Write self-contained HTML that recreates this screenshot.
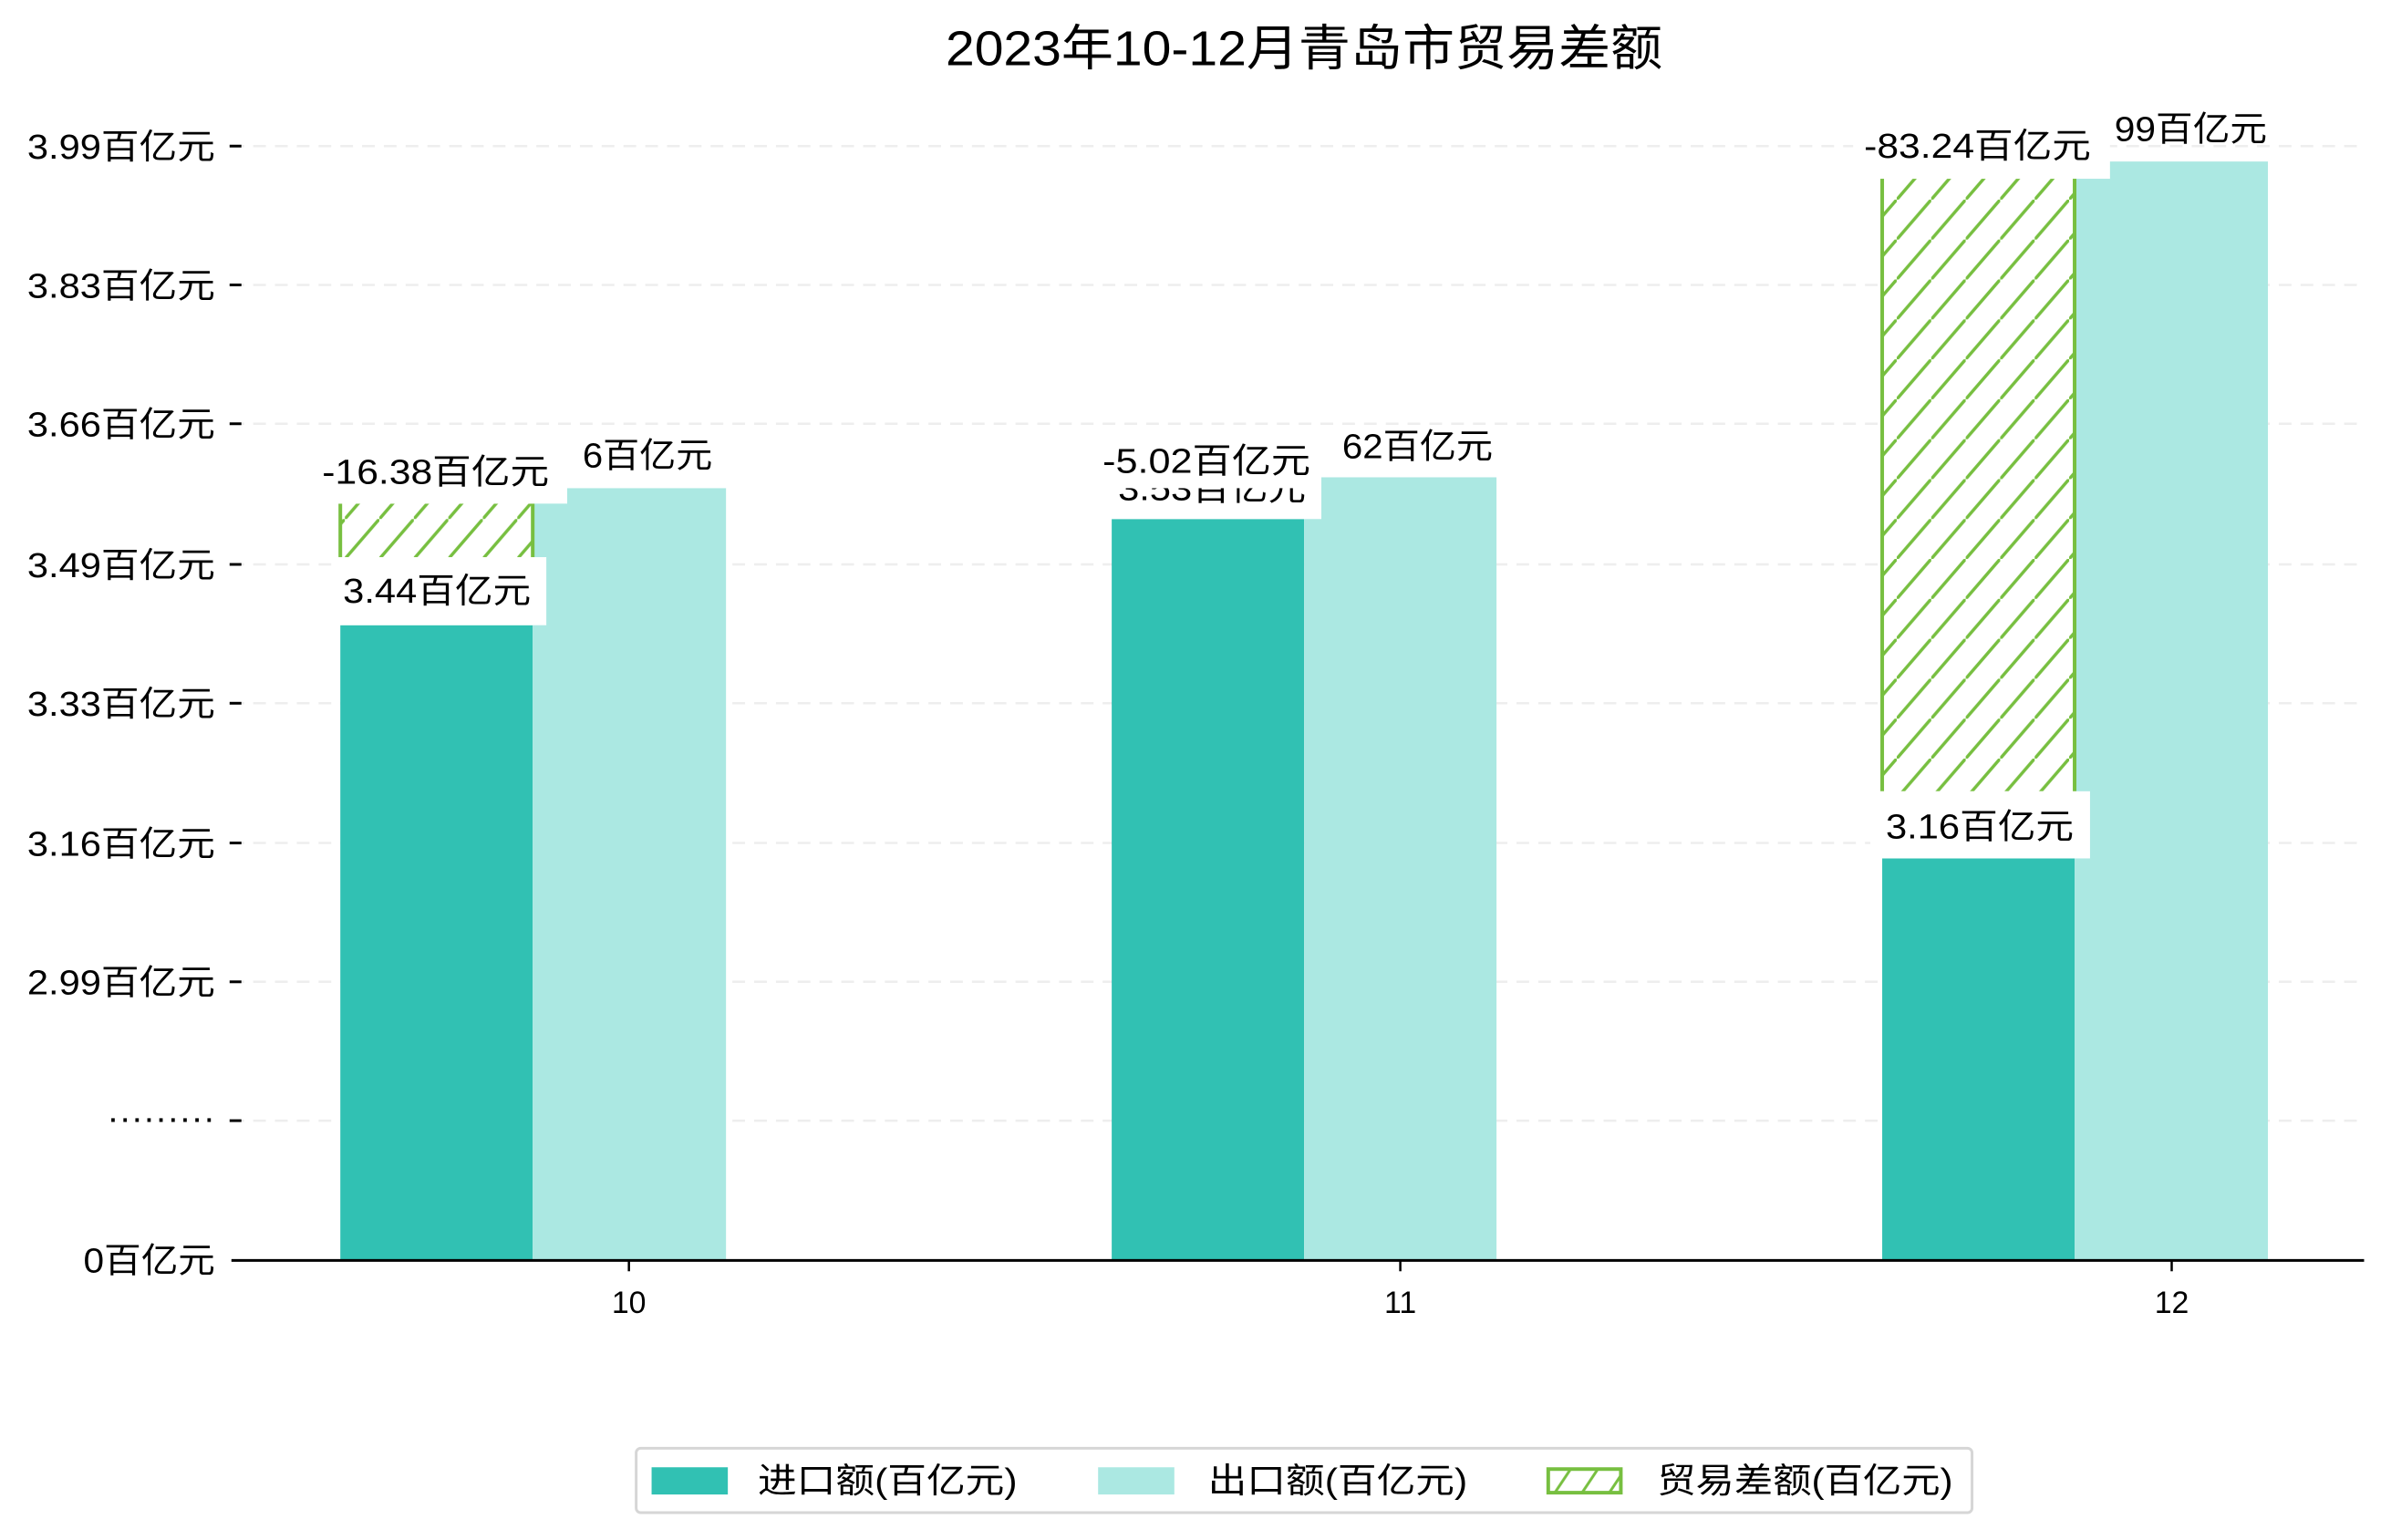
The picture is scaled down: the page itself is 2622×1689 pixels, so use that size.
<!DOCTYPE html>
<html><head><meta charset="utf-8"><style>
html,body{margin:0;padding:0;background:#fff;}
svg{display:block;font-family:"Liberation Sans","Noto Sans CJK SC",sans-serif;}
</style></head><body>
<svg width="2622" height="1689" viewBox="0 0 2622 1689" xmlns="http://www.w3.org/2000/svg">
<defs>
<pattern id="h" patternUnits="userSpaceOnUse" width="38" height="44">
<rect width="38" height="44" fill="#fff"/>
<path d="M-10,55.6 L48,-11.6" stroke="#77bf40" stroke-width="3.5"/>
</pattern>
<pattern id="hl" patternUnits="userSpaceOnUse" width="30" height="30">
<path d="M0,30 L20,0 M30,30 L50,0" stroke="#77bf40" stroke-width="3"/>
</pattern>
</defs>
<g transform="scale(0.9952)">
<text x="1042" y="72" font-size="54" textLength="790" lengthAdjust="spacingAndGlyphs" fill="#000">2023年10-12月青岛市贸易差额</text>
<g stroke="#eeeeee" stroke-width="2.5" stroke-dasharray="14,10">
<line x1="255" y1="161" x2="2605" y2="161"/><line x1="255" y1="314" x2="2605" y2="314"/>
<line x1="255" y1="467" x2="2605" y2="467"/><line x1="255" y1="622" x2="2605" y2="622"/>
<line x1="255" y1="775" x2="2605" y2="775"/><line x1="255" y1="929" x2="2605" y2="929"/>
<line x1="255" y1="1082" x2="2605" y2="1082"/><line x1="255" y1="1235" x2="2605" y2="1235"/>
</g>
<g font-size="38" fill="#000">
<text x="30" y="175" textLength="207" lengthAdjust="spacingAndGlyphs">3.99百亿元</text>
<text x="30" y="328" textLength="207" lengthAdjust="spacingAndGlyphs">3.83百亿元</text>
<text x="30" y="481" textLength="207" lengthAdjust="spacingAndGlyphs">3.66百亿元</text>
<text x="30" y="636" textLength="207" lengthAdjust="spacingAndGlyphs">3.49百亿元</text>
<text x="30" y="789" textLength="207" lengthAdjust="spacingAndGlyphs">3.33百亿元</text>
<text x="30" y="943" textLength="207" lengthAdjust="spacingAndGlyphs">3.16百亿元</text>
<text x="30" y="1096" textLength="207" lengthAdjust="spacingAndGlyphs">2.99百亿元</text>
<text x="118" y="1245" textLength="119" lengthAdjust="spacingAndGlyphs">·········</text>
<text x="92" y="1402" textLength="145" lengthAdjust="spacingAndGlyphs">0百亿元</text>
</g>
<g stroke="#000" stroke-width="3">
<line x1="253" y1="161" x2="266" y2="161"/><line x1="253" y1="314" x2="266" y2="314"/>
<line x1="253" y1="467" x2="266" y2="467"/><line x1="253" y1="622" x2="266" y2="622"/>
<line x1="253" y1="775" x2="266" y2="775"/><line x1="253" y1="929" x2="266" y2="929"/>
<line x1="253" y1="1082" x2="266" y2="1082"/><line x1="253" y1="1235" x2="266" y2="1235"/>
</g>
<!-- month 10 -->
<rect x="375" y="689" width="212" height="699" fill="#31c1b3"/>
<rect x="587" y="538" width="213" height="850" fill="#abe8e2"/>
<rect x="375" y="555" width="212" height="60" fill="url(#h)"/>
<line x1="375" y1="555" x2="375" y2="615" stroke="#77bf40" stroke-width="4"/>
<line x1="587" y1="555" x2="587" y2="615" stroke="#77bf40" stroke-width="4"/>
<rect x="625" y="492" width="170" height="45" fill="#fff"/>
<text x="642" y="515" font-size="38" textLength="143" lengthAdjust="spacingAndGlyphs">6百亿元</text>
<rect x="345" y="490" width="280" height="65" fill="#fff"/>
<text x="355" y="533" font-size="38" textLength="250" lengthAdjust="spacingAndGlyphs">-16.38百亿元</text>
<rect x="366" y="614" width="236" height="75" fill="#fff"/>
<text x="378" y="664" font-size="38" textLength="207" lengthAdjust="spacingAndGlyphs">3.44百亿元</text>
<!-- month 11 -->
<rect x="1225" y="572" width="212" height="816" fill="#31c1b3"/>
<rect x="1437" y="526" width="212" height="862" fill="#abe8e2"/>
<rect x="1216" y="500" width="240" height="72" fill="#fff"/>
<text x="1232" y="551" font-size="38" textLength="207" lengthAdjust="spacingAndGlyphs">3.53百亿元</text>
<rect x="1456" y="470" width="12" height="40" fill="#fff"/>
<text x="1479" y="505" font-size="38" textLength="166" lengthAdjust="spacingAndGlyphs">62百亿元</text>
<rect x="1207" y="476" width="249" height="62" fill="#fff"/>
<text x="1215" y="521" font-size="38" textLength="229" lengthAdjust="spacingAndGlyphs">-5.02百亿元</text>
<!-- month 12 -->
<rect x="2074" y="946" width="212" height="442" fill="#31c1b3"/>
<rect x="2286" y="178" width="213" height="1210" fill="#abe8e2"/>
<rect x="2074" y="197" width="212" height="675" fill="url(#h)"/>
<line x1="2074" y1="197" x2="2074" y2="872" stroke="#77bf40" stroke-width="4"/>
<line x1="2286" y1="197" x2="2286" y2="872" stroke="#77bf40" stroke-width="4"/>
<rect x="2061" y="872" width="242" height="74" fill="#fff"/>
<text x="2078" y="924" font-size="38" textLength="207" lengthAdjust="spacingAndGlyphs">3.16百亿元</text>
<rect x="2042" y="131" width="283" height="66" fill="#fff"/>
<text x="2054" y="174" font-size="38" textLength="250" lengthAdjust="spacingAndGlyphs">-83.24百亿元</text>
<text x="2330" y="155" font-size="38" textLength="168" lengthAdjust="spacingAndGlyphs">99百亿元</text>
<!-- x axis -->
<line x1="255" y1="1389" x2="2605" y2="1389" stroke="#000" stroke-width="3"/>
<g stroke="#000" stroke-width="2.5">
<line x1="693" y1="1389" x2="693" y2="1401"/><line x1="1543" y1="1389" x2="1543" y2="1401"/><line x1="2393" y1="1389" x2="2393" y2="1401"/>
</g>
<g font-size="34" text-anchor="middle">
<text x="693" y="1447">10</text><text x="1543" y="1447">11</text><text x="2393" y="1447">12</text>
</g>
<!-- legend -->
<rect x="701" y="1596" width="1472" height="71" rx="5" fill="#fff" stroke="#d6d6d6" stroke-width="3"/>
<rect x="718" y="1617" width="84" height="30" fill="#31c1b3"/>
<text x="835" y="1645" font-size="38" textLength="286" lengthAdjust="spacingAndGlyphs">进口额(百亿元)</text>
<rect x="1210" y="1617" width="84" height="30" fill="#abe8e2"/>
<text x="1331" y="1645" font-size="38" textLength="286" lengthAdjust="spacingAndGlyphs">出口额(百亿元)</text>
<rect x="1706" y="1619" width="80" height="26" fill="url(#hl)" stroke="#77bf40" stroke-width="4"/>
<text x="1826" y="1645" font-size="38" textLength="326" lengthAdjust="spacingAndGlyphs">贸易差额(百亿元)</text>
</g>
</svg>
</body></html>
